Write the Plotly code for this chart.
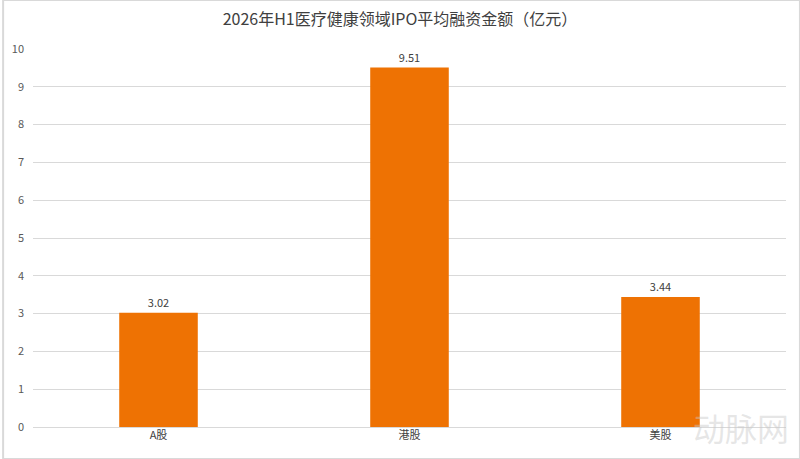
import plotly.graph_objects as go

categories = ["A股", "港股", "美股"]
values = [3.02, 9.51, 3.44]
tick_vals = list(range(0, 11))

fig = go.Figure()
fig.add_trace(go.Bar(
    x=categories, y=values,
    marker=dict(color="#EE7203", line=dict(width=0)),
    text=[f"{v:.2f}" for v in values],
    textposition="outside",
    textfont=dict(size=11, color="#404040"),
    cliponaxis=False,
))

fig.update_layout(
    width=800, height=459,
    margin=dict(l=30, r=14, t=49, b=32),
    paper_bgcolor="white", plot_bgcolor="white",
    font=dict(family="Noto Sans CJK SC, Noto Sans, sans-serif", color="#595959", size=11),
    title=dict(text="2026年H1医疗健康领域IPO平均融资金额（亿元）",
               x=0.5, xanchor="center", y=0.958, yanchor="middle",
               font=dict(size=16, color="#404040")),
    bargap=0.687,
    showlegend=False,
    xaxis=dict(showline=False, showgrid=False, ticks="", tickfont=dict(size=11, color="#404040")),
    yaxis=dict(range=[0, 10], tickvals=tick_vals, showgrid=True, gridcolor="#D9D9D9",
               gridwidth=1, zeroline=True, zerolinecolor="#D9D9D9", zerolinewidth=1,
               ticklabelstandoff=8, tickfont=dict(size=11, color="#595959")),
    shapes=[dict(type="rect", xref="paper", yref="paper", x0=-30/756, x1=1+14/756,
                 y0=-32/378, y1=1+49/378, line=dict(color="#D9D9D9", width=2))],
    annotations=[dict(text="动脉网", xref="paper", yref="paper", x=0.94, y=-0.0,
                      xanchor="center", yanchor="middle", showarrow=False,
                      font=dict(size=32, color="rgba(200,200,200,0.45)"))],
)

fig.write_html("out.html")
